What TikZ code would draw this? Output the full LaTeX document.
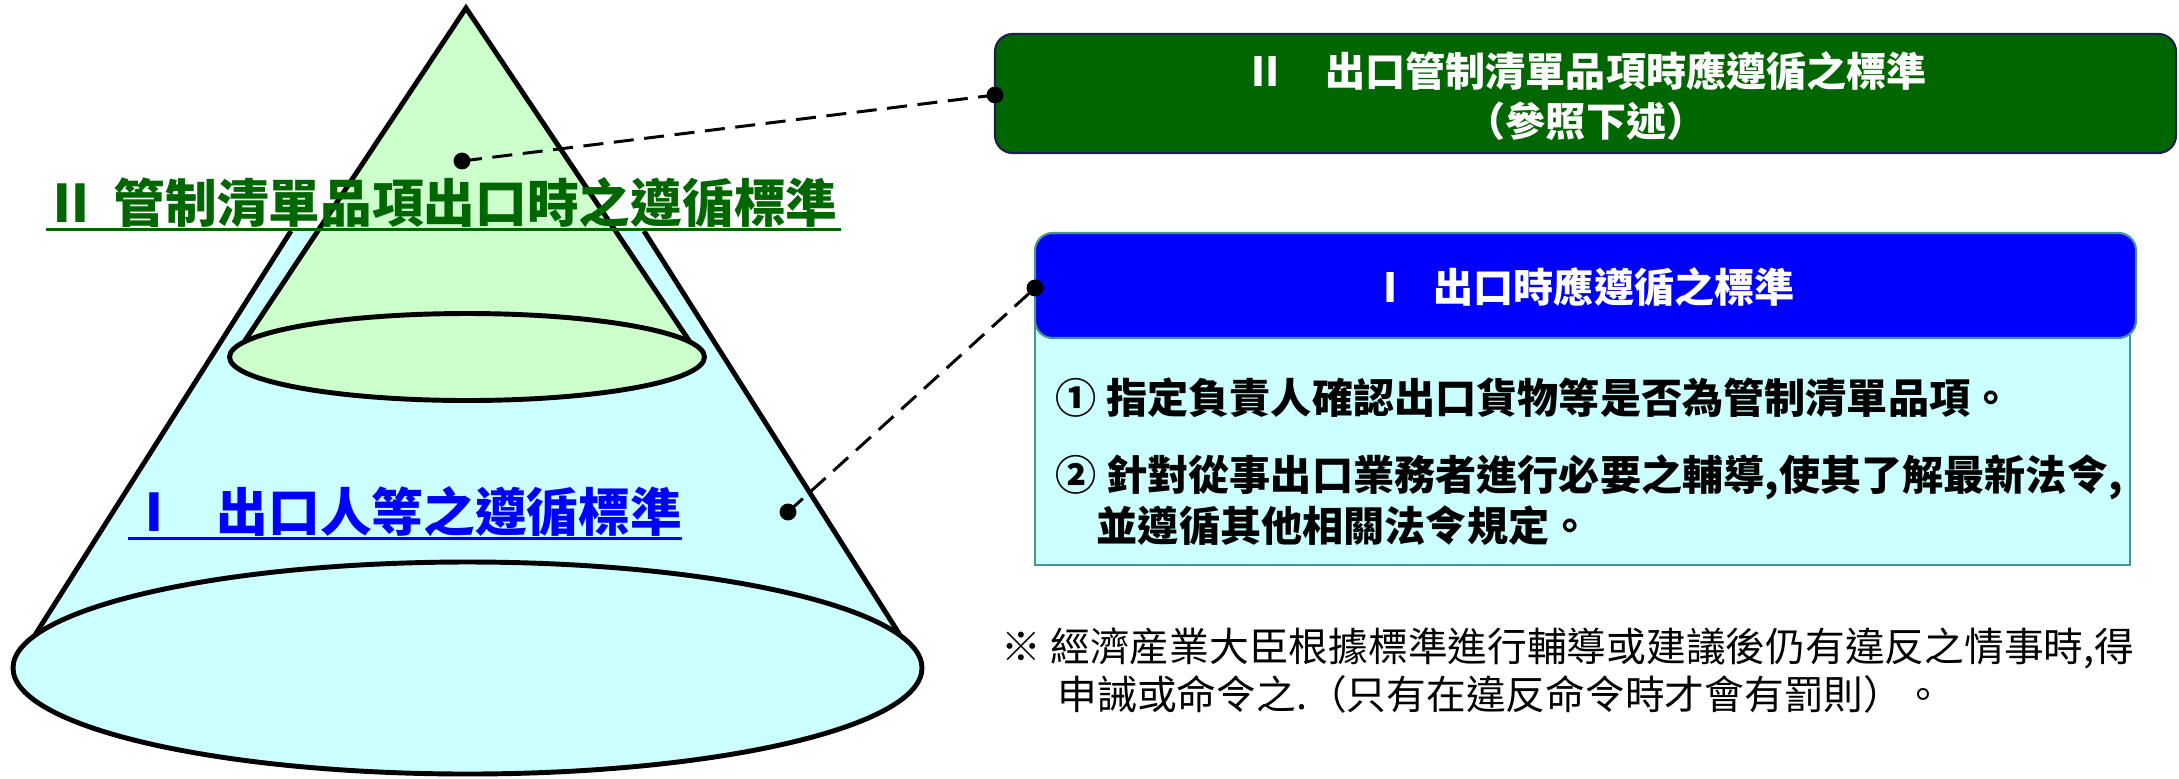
\documentclass[tikz,border=0pt]{standalone}
\usepackage{fontspec}
\setmainfont{Noto Sans CJK TC}
\definecolor{conecyan}{HTML}{CCFFFF}
\definecolor{conegreen}{HTML}{CCFFCC}
\definecolor{dkgreen}{HTML}{006600}
\definecolor{navyline}{HTML}{1F1F4F}
\definecolor{tealline}{HTML}{4A9494}
\definecolor{pureblue}{HTML}{0000FF}
\begin{document}
\begin{tikzpicture}[x=0.01cm,y=-0.01cm,
  coneline/.style={line width=1.4pt,line join=miter},
  dashline/.style={line width=0.85pt,dash pattern=on 5.7pt off 3pt},
  dotnode/.style={circle,fill=black,inner sep=0pt,minimum size=4.8pt},
  bigtitle/.style={inner sep=0pt,font=\fontsize{14.7}{17}\selectfont\bfseries},
  boxtitle/.style={inner sep=0pt,text=white,font=\fontsize{11.4}{14}\selectfont\bfseries},
  itemtext/.style={inner sep=0pt,anchor=west,font=\fontsize{11.7}{14}\selectfont\bfseries},
  notetext/.style={inner sep=0pt,anchor=west,font=\fontsize{11.3}{14}\selectfont}]
\useasboundingbox (0,0) rectangle (2179,778);
% outer (blue) frustum
\fill[conecyan] (291,231) -- (35,635) -- (900,635) -- (644,231) -- cycle;
\fill[conecyan] (467.5,668) ellipse [x radius=454.5, y radius=106];
\draw[coneline] (467.5,668) ellipse [x radius=454.5, y radius=106];
\draw[coneline] (291,231) -- (35,635);
\draw[coneline] (644,231) -- (900,635);
% inner (green) cone
\fill[conegreen] (466,8) -- (244,342) -- (690,342) -- cycle;
\fill[conegreen] (467,357) ellipse [x radius=237.5, y radius=43.5];
\draw[coneline] (244,342) -- (466,8) -- (690,342);
\draw[coneline] (467,357) ellipse [x radius=237.5, y radius=43.5];
% titles on the cone
\node[bigtitle,text=dkgreen] (t2a) at (71,203) {Ⅱ};
\node[bigtitle,text=dkgreen,anchor=west] (t2b) at (113,203) {管制清單品項出口時之遵循標準};
\draw[dkgreen,line width=0.85pt] (46,229.5) -- (841,229.5);
\node[bigtitle,text=pureblue] (t1a) at (154,512) {Ⅰ};
\node[bigtitle,text=pureblue,anchor=west] (t1b) at (216,512) {出口人等之遵循標準};
\draw[pureblue,line width=1pt] (128,538.5) -- (682,538.5);
% green box
\draw[navyline,fill=dkgreen,line width=0.6pt,rounded corners=5pt] (995,34) rectangle (2176,153);
\node[boxtitle] (g1) at (1586,71) {Ⅱ　出口管制清單品項時應遵循之標準};
\node[boxtitle] (g2) at (1586,121) {（參照下述）};
% blue box
\draw[tealline,fill=conecyan,line width=0.6pt] (1035,300) rectangle (2130,565);
\draw[tealline,fill=pureblue,line width=0.6pt,rounded corners=5pt] (1035,233) rectangle (2136,338);
\node[boxtitle] (b1a) at (1391,287) {Ⅰ};
\node[boxtitle,anchor=west] (b1b) at (1433,287) {出口時應遵循之標準};
\node[itemtext] (i1) at (1055,398) {① 指定負責人確認出口貨物等是否為管制清單品項。};
\node[itemtext] (i2) at (1055,477) {② 針對從事出口業務者進行必要之輔導,使其了解最新法令,};
\node[itemtext] (i3) at (1096,526) {並遵循其他相關法令規定。};
% note
\node[notetext] (n1) at (1001,648) {※ 經濟産業大臣根據標準進行輔導或建議後仍有違反之情事時,得};
\node[notetext] (n2) at (1057,694) {申誡或命令之.（只有在違反命令時才會有罰則）。};
% connectors
\coordinate (c2a) at (462,161);
\coordinate (c2b) at (995,95);
\coordinate (c1a) at (788,512);
\coordinate (c1b) at (1035,288);
\draw[dashline] (c2a) -- (c2b);
\draw[dashline] (c1a) -- (c1b);
\node[dotnode] (d2a) at (c2a) {};
\node[dotnode] (d2b) at (c2b) {};
\node[dotnode] (d1a) at (c1a) {};
\node[dotnode] (d1b) at (c1b) {};
\end{tikzpicture}
\end{document}
